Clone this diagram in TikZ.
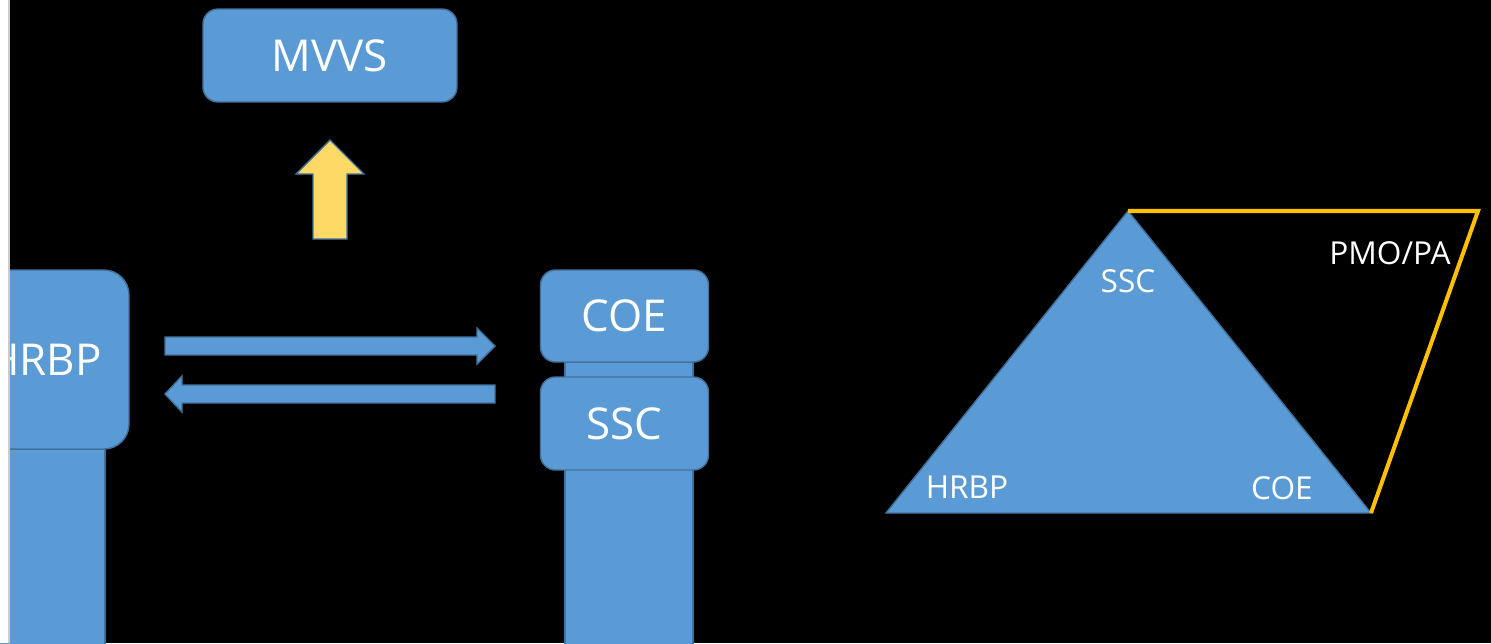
\documentclass[tikz,border=0pt]{standalone}
\usepackage{fontspec}
\setmainfont{Open Sans}
\usetikzlibrary{positioning}
\definecolor{boxblue}{HTML}{5B9BD5}
\definecolor{edgeblue}{HTML}{41719C}
\definecolor{arrowgold}{HTML}{FFD966}
\definecolor{linegold}{HTML}{FFC000}
\tikzset{
	every node/.style = {text=white, inner sep=0pt},
	block/.style = {fill=boxblue, draw=edgeblue, line width=0.8pt},
	roundbox/.style = {block, rounded corners=0.3cm},
	bigtext/.style = {font=\fontsize{25}{30}\selectfont},
	smalltext/.style = {font=\fontsize{18}{22}\selectfont}
}

\begin{document}
\begin{tikzpicture}[x=0.02cm, y=-0.02cm]
	\clip (0,0) rectangle (1491,643);
	\fill[black] (0,0) rectangle (1491,643);
	
	% pillars
	\draw[block] (-14,449) rectangle (105,660);
	\draw[block] (565,362) rectangle (693,660);
	
	% boxes
	\node[roundbox, rounded corners=0.5cm, minimum width=3.38cm, minimum height=3.58cm, bigtext] (hrbp) at (44.5,359.5) {HRBP};
	\node[roundbox, minimum width=3.36cm, minimum height=1.84cm, bigtext] (coe) at (624.5,316) {COE};
	\node[roundbox, minimum width=3.36cm, minimum height=1.86cm, bigtext] (ssc) at (624.5,423.5) {SSC};
	\node[roundbox, minimum width=5.08cm, minimum height=1.86cm, bigtext] (mvvs) at (330,55.5) {MVVS};
	
	% arrows
	\draw[block, fill=arrowgold] (313,239) -- (313,174) -- (296,174) -- (330,140)
		-- (364,174) -- (347,174) -- (347,239) -- cycle;
	\draw[block] (165,337) -- (477,337) -- (477,328) -- (495,346)
		-- (477,364) -- (477,355) -- (165,355) -- cycle;
	\draw[block] (495,385) -- (182,385) -- (182,376) -- (165,394)
		-- (182,412) -- (182,403) -- (495,403) -- cycle;
	
	% left edge
	\fill[white] (0,0) rectangle (9,643);
	\draw[gray!40, line width=0.6pt] (9,0) -- (9,643);
	
	% triangle
	\coordinate (apex) at (1128,211);
	\coordinate (left) at (886,513);
	\coordinate (right) at (1371,513);
	\coordinate (corner) at (1478,211);
	\draw[block] (apex) -- (right) -- (left) -- cycle;
	\draw[linegold, line width=2.3pt] (apex) -- (corner) -- (right);
	
	% labels
	\node[smalltext] (tssc) at (1128,281) {SSC};
	\node[smalltext] (tpmo) at (1390,253) {PMO/PA};
	\node[smalltext] (thrbp) at (967,487) {HRBP};
	\node[smalltext] (tcoe) at (1282,488) {COE};
\end{tikzpicture}
\end{document}
